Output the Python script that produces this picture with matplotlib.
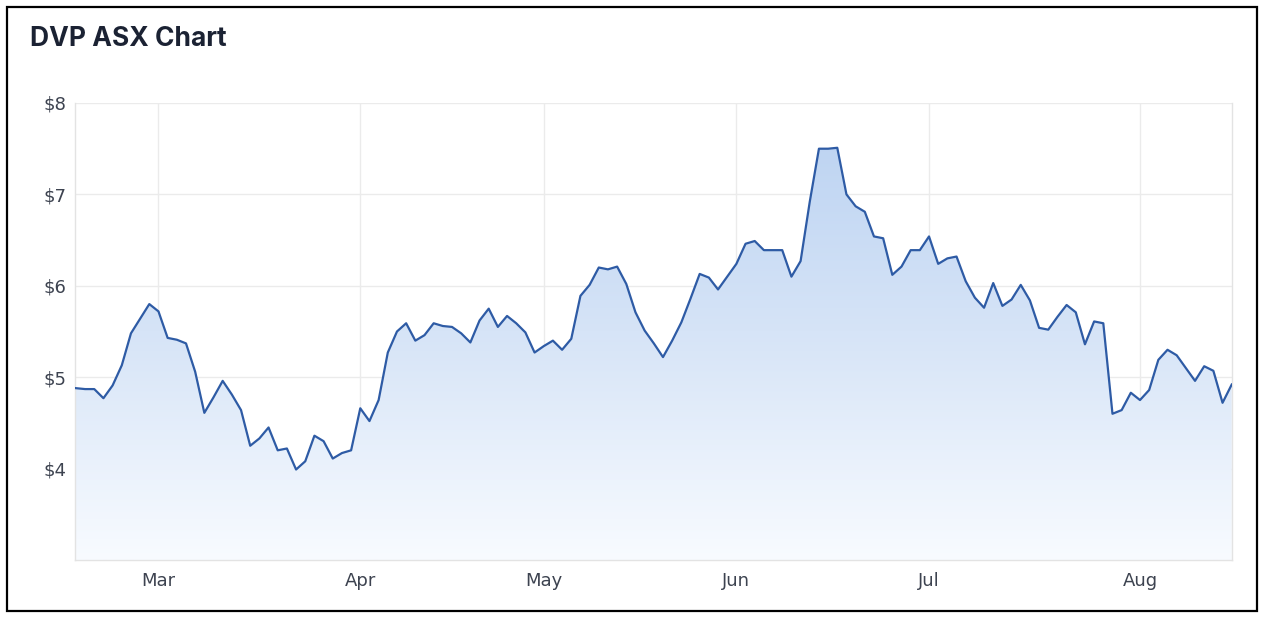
import numpy as np
import matplotlib
matplotlib.use("Agg")
import matplotlib.pyplot as plt
from matplotlib.colors import LinearSegmentedColormap
from matplotlib.patches import Rectangle

# daily closing prices (trading days, mid Feb -> mid Aug)
prices = [
    4.88, 4.87, 4.87, 4.77, 4.91, 5.13, 5.48, 5.64, 5.80, 5.72,
    5.43, 5.41, 5.37, 5.06, 4.61, 4.78, 4.96, 4.81, 4.64, 4.25,
    4.33, 4.45, 4.20, 4.22, 3.99, 4.08, 4.36, 4.30, 4.11, 4.17,
    4.20, 4.66, 4.52, 4.75, 5.27, 5.50, 5.59, 5.40, 5.46, 5.59,
    5.56, 5.55, 5.48, 5.38, 5.62, 5.75, 5.55, 5.67, 5.59, 5.49,
    5.27, 5.34, 5.40, 5.30, 5.42, 5.89, 6.01, 6.20, 6.18, 6.21,
    6.02, 5.71, 5.51, 5.37, 5.22, 5.40, 5.60, 5.86, 6.13, 6.09,
    5.96, 6.10, 6.24, 6.46, 6.49, 6.39, 6.39, 6.39, 6.10, 6.27,
    6.92, 7.50, 7.50, 7.51, 7.00, 6.87, 6.81, 6.54, 6.52, 6.12,
    6.21, 6.39, 6.39, 6.54, 6.24, 6.30, 6.32, 6.05, 5.87, 5.76,
    6.03, 5.78, 5.85, 6.01, 5.84, 5.54, 5.52, 5.66, 5.79, 5.71,
    5.36, 5.61, 5.59, 4.60, 4.64, 4.83, 4.75, 4.86, 5.19, 5.30,
    5.24, 5.10, 4.96, 5.12, 5.07, 4.72, 4.92,
]

# first trading day of each month (index into prices)
month_pos = [9, 31, 51, 72, 93, 116]
month_labels = ["Mar", "Apr", "May", "Jun", "Jul", "Aug"]

y_ticks = [4, 5, 6, 7, 8]
y_labels = ["$4", "$5", "$6", "$7", "$8"]

x = np.arange(len(prices))
y_lo, y_hi = 3, 8

fig = plt.figure(figsize=(12.66, 6.22), dpi=100)
fig.patch.set_facecolor("white")

# outer black frame
fig.add_artist(Rectangle((7 / 1266, 1 - 611 / 622), 1250 / 1266, 604 / 622,
                         transform=fig.transFigure, fill=False,
                         ec="black", lw=1.6))

fig.text(30 / 1266, 1 - 39 / 622, "DVP ASX Chart", fontsize=19,
         fontweight="bold", color="#1b2233", family="Inter",
         va="center", ha="left")

ax = fig.add_axes([75 / 1266, 1 - 560 / 622, (1232 - 75) / 1266, (560 - 103) / 622])
ax.set_facecolor("white")

# gradient area under the line
cmap = LinearSegmentedColormap.from_list("area", ["#f8fbff", "#d6e4f7", "#b9d1f1"])
grad = np.linspace(0, 1, 256).reshape(-1, 1)
im = ax.imshow(grad, extent=[x[0], x[-1], y_lo, y_hi], origin="lower",
               aspect="auto", cmap=cmap, zorder=1)
area = ax.fill_between(x, prices, y_lo, color="none", lw=0)
im.set_clip_path(area.get_paths()[0], transform=ax.transData)

ax.plot(x, prices, color="#2e5ba5", lw=1.6, zorder=3, solid_joinstyle="round")

ax.set_xlim(x[0] - 0.1, x[-1] + 0.03)
ax.set_ylim(y_lo, y_hi)

ax.set_xticks(month_pos)
ax.set_xticklabels(month_labels)
ax.set_yticks(y_ticks)
ax.set_yticklabels(y_labels)
ax.tick_params(axis="both", length=0, labelsize=13, colors="#3d4350")
ax.tick_params(axis="x", pad=9)
ax.tick_params(axis="y", pad=6)

ax.grid(True, color="#ebebeb", lw=1, zorder=0)
ax.set_axisbelow(True)
for side in ["left", "bottom", "right"]:
    ax.spines[side].set_color("#e3e3e3")
    ax.spines[side].set_linewidth(1)
ax.spines["top"].set_visible(False)

fig.savefig("out.png", dpi=100)
